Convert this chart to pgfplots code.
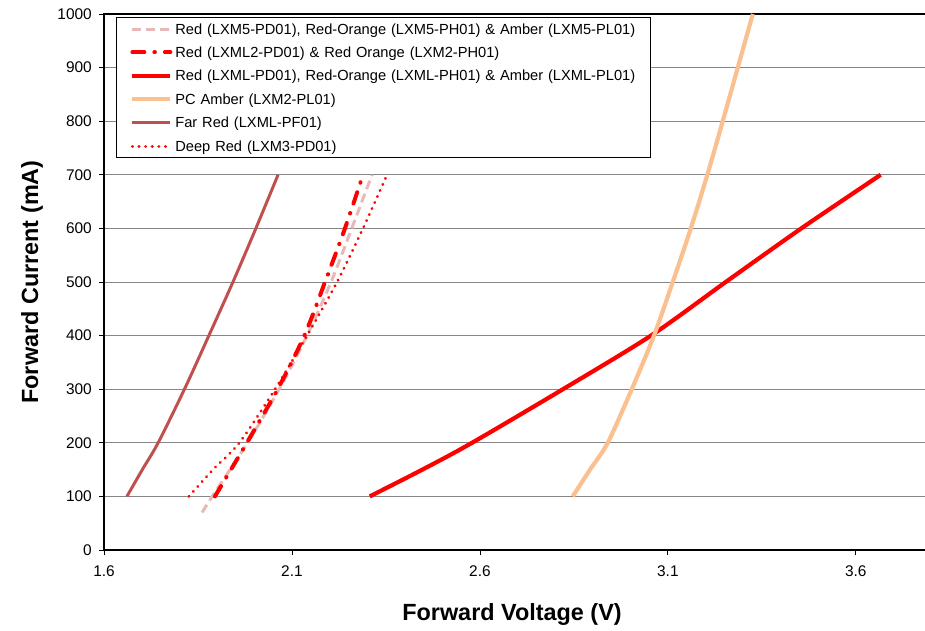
\documentclass[border=0pt]{standalone}
\usepackage{fontspec}
\setmainfont{Liberation Sans}
\usepackage{pgfplots}
\pgfplotsset{compat=1.18}
\definecolor{pinkd}{RGB}{230,184,183}
\definecolor{amber}{RGB}{250,192,144}
\definecolor{farred}{RGB}{192,80,77}
\definecolor{gridc}{RGB}{134,134,134}
\begin{document}
\begin{tikzpicture}
\begin{axis}[
  scale only axis, width=827bp, height=536bp,
  xmin=1.6, xmax=3.8, ymin=0, ymax=1000,
  xtick={1.6,2.1,2.6,3.1,3.6},
  xticklabels={1.6,2.1,2.6,3.1,3.6},
  ytick={0,100,...,1000},
  /pgf/number format/1000 sep={},
  ymajorgrids, major grid style={gridc, line width=0.8bp},
  axis line style={line width=2.6bp},
  tick align=outside, tick pos=left,
  major tick length=5bp, tick style={black, line width=0.8bp},
  ticklabel style={font=\fontsize{15.5}{18}\selectfont},
  /pgf/number format/assume math mode=true,
  yticklabel style={anchor=east, inner sep=0pt, xshift=-7bp},
  xticklabel style={anchor=north, inner sep=0pt, yshift=-11bp},
  legend cell align=left,
  legend image code/.code={\path[draw=none,fill=none] (0bp,0bp) -- (59bp,0bp); \draw[#1] (16bp,0bp) -- (54bp,0bp);},
  legend style={at={(0.0145,0.9944)}, anchor=north west, draw=black, line width=0.8bp,
    inner sep=0pt, column sep=0pt, row sep=0pt, font=\fontsize{14.7}{17}\selectfont,
    nodes={inner sep=0pt, text height=16.7bp, text depth=6.7bp, text width=475bp, align=left}},
]
\addplot[pinkd, line width=3bp, dash pattern=on 9bp off 5bp, smooth] coordinates {
 (1.861,70) (1.888,100) (1.982,200) (2.066,300) (2.140,400) (2.204,500) (2.259,600) (2.313,700)};
\addlegendentry{Red (LXM5-PD01), Red-Orange (LXM5-PH01) \& Amber (LXM5-PL01)}
\addplot[red, line width=4bp, line cap=round, dash pattern=on 12bp off 10bp on 0.5bp off 10bp, smooth] coordinates {
 (1.895,100) (1.980,200) (2.062,300) (2.133,400) (2.188,500) (2.241,600) (2.289,700)};
\addlegendentry{Red (LXML2-PD01) \& Red Orange (LXM2-PH01)}
\addplot[red, line width=4.2bp, smooth] coordinates {
 (2.307,100) (2.447,150) (2.579,200) (2.821,300) (3.055,400) (3.254,500) (3.455,600) (3.666,700)};
\addlegendentry{Red (LXML-PD01), Red-Orange (LXML-PH01) \& Amber (LXML-PL01)}
\addplot[amber, line width=4.2bp, smooth] coordinates {
 (2.847,100) (2.893,150) (2.940,200) (3.004,300) (3.063,400) (3.113,500) (3.161,600) (3.205,700) (3.246,800) (3.286,900) (3.326,1000)};
\addlegendentry{PC Amber (LXM2-PL01)}
\addplot[farred, line width=3bp, smooth] coordinates {
 (1.661,100) (1.702,150) (1.744,200) (1.814,300) (1.879,400) (1.943,500) (2.004,600) (2.063,700)};
\addlegendentry{Far Red (LXML-PF01)}
\addplot[red, line width=3.1bp, line cap=round, dash pattern=on 0.1bp off 6.5bp, smooth] coordinates {
 (1.826,100) (1.890,150) (1.960,200) (2.055,300) (2.140,400) (2.220,500) (2.289,600) (2.353,700)};
\addlegendentry{Deep Red (LXM3-PD01)}
\end{axis}
\node[anchor=base, font=\bfseries\fontsize{23.5}{28}\selectfont] at (408bp,-70bp) {Forward Voltage (V)};
\node[rotate=90, font=\bfseries\fontsize{23.5}{28}\selectfont] at (-72bp,268bp) {Forward Current (mA)};
\pgfresetboundingbox
\path[use as bounding box] (-104bp,-81bp) rectangle (821bp,550bp);
\end{tikzpicture}
\end{document}
